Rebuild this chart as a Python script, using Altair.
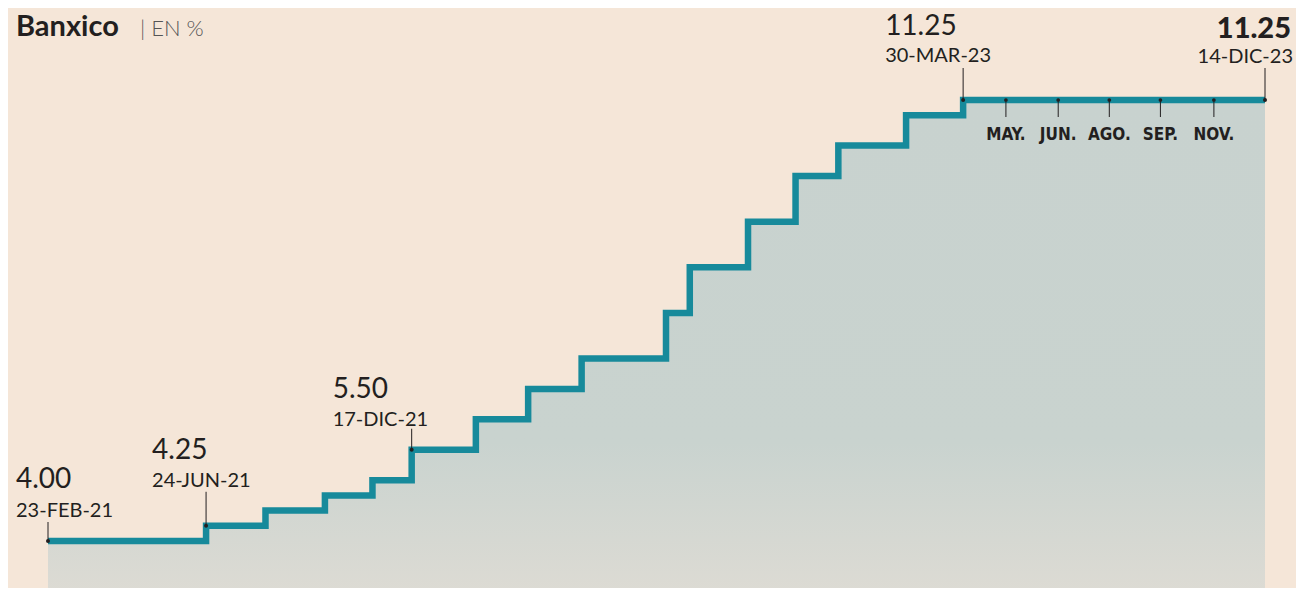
import altair as alt
import pandas as pd

# ---------------- data ----------------
step_dates = ["2021-02-23", "2021-07-06", "2021-08-25", "2021-10-14", "2021-11-23",
              "2021-12-26", "2022-02-18", "2022-04-03", "2022-05-18", "2022-07-28",
              "2022-08-17", "2022-10-05", "2022-11-14", "2022-12-20", "2023-02-15",
              "2023-04-04", "2023-12-14"]
step_rates = [4.00, 4.25, 4.50, 4.75, 5.00, 5.50, 6.00, 6.50, 7.00, 7.75,
              8.50, 9.25, 10.00, 10.50, 11.00, 11.25, 11.25]

ann_dates = ["2021-02-23", "2021-07-06", "2021-12-26", "2023-04-04", "2023-12-14"]
ann_rates = [4.00, 4.25, 5.50, 11.25, 11.25]
ann_values = ["4.00", "4.25", "5.50", "11.25", "11.25"]
ann_labels = ["23-FEB-21", "24-JUN-21", "17-DIC-21", "30-MAR-23", "14-DIC-23"]

hold_dates = ["2023-05-10", "2023-06-23", "2023-08-05", "2023-09-17", "2023-11-01"]
hold_rates = [11.25, 11.25, 11.25, 11.25, 11.25]
hold_labels = ["MAY.", "JUN.", "AGO.", "SEP.", "NOV."]

title_top = "Tasa objetivo de"
title_main = "Banxico"
title_unit = "| EN %"

# ---------------- styles ----------------
FONT = "Lato"
NARROW = "'Liberation Sans Narrow', 'DejaVu Sans Condensed', 'DejaVu Sans', sans-serif"
BG = "#f5e6d8"
TEAL = "#178a9b"
INK = "#231f20"

ann_style = [
    dict(dx=-32, vdy=-53, ddy=-24, lead=-19, align="left", vsize=28, vweight="normal", ddx=0),
    dict(dx=-54, vdy=-67, ddy=-39, lead=-34, align="left", vsize=28, vweight="normal", ddx=0),
    dict(dx=-79, vdy=-52, ddy=-24, lead=-21, align="left", vsize=28, vweight="normal", ddx=0),
    dict(dx=-78, vdy=-65, ddy=-38, lead=-32, align="left", vsize=28, vweight="normal", ddx=0),
    dict(dx=26, vdy=-62, ddy=-37, lead=-32, align="right", vsize=29, vweight=900, ddx=2),
]

xs = alt.Scale(range=[40, 1257], nice=False)
ys = alt.Scale(domain=[4, 11.25], range=[533, 92], nice=False, zero=False)

steps = pd.DataFrame({"date": step_dates, "rate": step_rates})
X = alt.X("date:T", scale=xs, axis=None)
Y = alt.Y("rate:Q", scale=ys, axis=None)

grad = {
    "gradient": "linear", "x1": 0, "x2": 0, "y1": 0, "y2": 1,
    "stops": [{"color": "#c8d2cf", "offset": 0},
              {"color": "#c9d3cf", "offset": 0.50},
              {"color": "#e2ddd5", "offset": 0.78},
              {"color": "#f5e6d8", "offset": 1}],
}

area = alt.Chart(steps).mark_area(interpolate="step-after", fill=grad, opacity=1).encode(
    x=X, y=Y, y2=alt.value(580))
line = alt.Chart(steps).mark_line(
    interpolate="step-after", color=TEAL, strokeWidth=6.5, strokeJoin="miter"
).encode(x=X, y=Y)

layers = [area, line]

# hold-meeting ticks
holds = pd.DataFrame({"date": hold_dates, "rate": hold_rates, "lab": hold_labels})
hb = alt.Chart(holds).encode(x=X, y=Y)
layers.append(hb.mark_rule(color=INK, strokeWidth=1, y2Offset=17).encode(y2="rate:Q"))
layers.append(hb.mark_circle(color=INK, size=14, opacity=1))
layers.append(hb.mark_text(font=NARROW, fontWeight="bold", fontSize=17, color=INK,
                           align="center", baseline="alphabetic", dy=40).encode(text="lab:N"))

# annotations
for i, st in enumerate(ann_style):
    row = pd.DataFrame({"date": [ann_dates[i]], "rate": [ann_rates[i]],
                        "val": [ann_values[i]], "lab": [ann_labels[i]]})
    b = alt.Chart(row).encode(x=X, y=Y)
    layers.append(b.mark_rule(color=INK, strokeWidth=1, y2Offset=st["lead"]).encode(y2="rate:Q"))
    layers.append(b.mark_circle(color=INK, size=16, opacity=1))
    layers.append(b.mark_text(font=FONT, fontSize=st["vsize"], fontWeight=st["vweight"],
                              color=INK, align=st["align"], baseline="alphabetic",
                              dx=st["dx"], dy=st["vdy"]).encode(text="val:N"))
    layers.append(b.mark_text(font=FONT, fontSize=20, color=INK, align=st["align"],
                              baseline="alphabetic", dx=st["dx"] + st["ddx"],
                              dy=st["ddy"]).encode(text="lab:N"))

# header
hdr = pd.DataFrame({"a": [title_top], "b": [title_main], "c": [title_unit]})
layers.append(alt.Chart(hdr).mark_text(font=FONT, fontSize=29, fontWeight="bold", color=INK,
                                       align="left", baseline="alphabetic").encode(
    x=alt.value(8), y=alt.value(-9), text="a:N"))
layers.append(alt.Chart(hdr).mark_text(font=FONT, fontSize=29, fontWeight="bold", color=INK,
                                       align="left", baseline="alphabetic").encode(
    x=alt.value(8), y=alt.value(28), text="b:N"))
layers.append(alt.Chart(hdr).mark_text(font=FONT, fontSize=22, fontWeight=300, color="#555555",
                                       align="left", baseline="alphabetic").encode(
    x=alt.value(132), y=alt.value(28), text="c:N"))

chart = alt.layer(*layers).properties(
    width=1288, height=580, padding=0,
    autosize=alt.AutoSizeParams(type="none"),
    background=BG,
).configure_view(stroke=None)

chart.save("out.html", embed_options={"renderer": "svg", "actions": False})
